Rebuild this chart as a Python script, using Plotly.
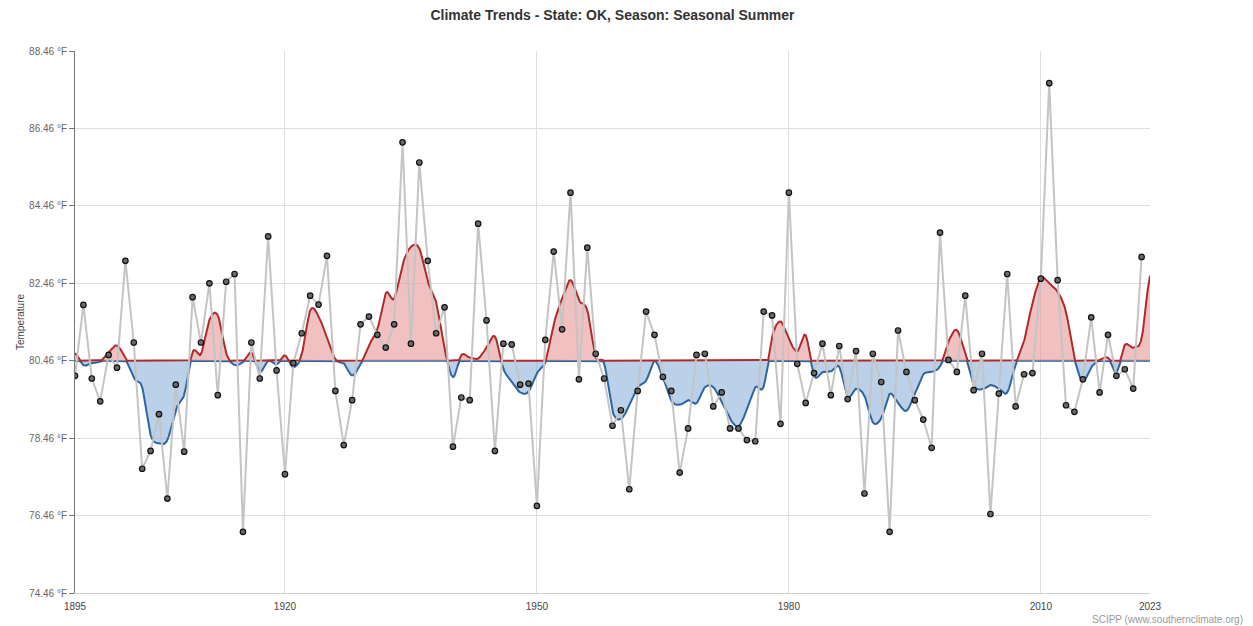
import numpy as np
import plotly.graph_objects as go

# ---- data ----
years = list(range(1895, 2023))
temps = [
    80.07, 81.90, 80.00, 79.41, 80.61, 80.28, 83.04, 80.93, 77.67, 78.13,  # 1895-1904
    79.08, 76.90, 79.84, 78.11, 82.10, 80.93, 82.46, 79.57, 82.50, 82.70,  # 1905-1914
    76.04, 80.93, 80.00, 83.67, 80.21, 77.53, 80.40, 81.17, 82.14, 81.91,  # 1915-1924
    83.17, 79.68, 78.28, 79.44, 81.40, 81.60, 81.13, 80.80, 81.40, 86.10,  # 1925-1934
    80.90, 85.58, 83.04, 81.17, 81.84, 78.24, 79.51, 79.44, 84.00, 81.50,  # 1935-1944
    78.13, 80.90, 80.88, 79.84, 79.87, 76.71, 81.00, 83.28, 81.27, 84.80,  # 1945-1954
    79.98, 83.38, 80.64, 80.00, 78.78, 79.18, 77.14, 79.68, 81.73, 81.13,  # 1955-1964
    80.04, 79.68, 77.57, 78.71, 80.61, 80.64, 79.28, 79.64, 78.71, 78.71,  # 1965-1974
    78.41, 78.38, 81.73, 81.63, 78.83, 84.80, 80.38, 79.37, 80.14, 80.90,  # 1975-1984
    79.57, 80.84, 79.47, 80.71, 77.03, 80.64, 79.91, 76.04, 81.24, 80.17,  # 1985-1994
    79.44, 78.94, 78.21, 83.77, 80.48, 80.17, 82.14, 79.70, 80.64, 76.50,  # 1995-2004
    79.61, 82.70, 79.28, 80.11, 80.14, 82.58, 87.63, 82.54, 79.31, 79.14,  # 2005-2014
    79.98, 81.58, 79.64, 81.13, 80.07, 80.24, 79.74, 83.14,                # 2015-2022
]
mean_temp = 80.46
trend_end_year = 2023
trend_end_value = 82.66
y_ticks = [74.46, 76.46, 78.46, 80.46, 82.46, 84.46, 86.46, 88.46]
x_ticks = [1895, 1920, 1950, 1980, 2010, 2023]

# ---- 5-year centred running mean ----
t = np.array(temps)
ma = [t[max(0, i - 2): i + 3].mean() for i in range(len(t))]
ky = np.array(years + [trend_end_year], dtype=float)
kv = np.array(ma + [trend_end_value])

# Catmull-Rom interpolation of the running mean
n = len(kv)
xs, vs = [], []
steps = 24
for i in range(n - 1):
    p0 = kv[i - 1] if i > 0 else kv[i]
    p1 = kv[i]
    p2 = kv[i + 1]
    p3 = kv[i + 2] if i + 2 < n else kv[i + 1]
    s = np.linspace(0, 1, steps, endpoint=(i == n - 2))
    v = 0.5 * (2 * p1 + (-p0 + p2) * s + (2 * p0 - 5 * p1 + 4 * p2 - p3) * s**2
               + (-p0 + 3 * p1 - 3 * p2 + p3) * s**3)
    xs.append(ky[i] + s * (ky[i + 1] - ky[i]))
    vs.append(v)
xs = np.concatenate(xs)
vs = np.concatenate(vs)
upper = np.maximum(vs, mean_temp)
lower = np.minimum(vs, mean_temp)
base = np.full_like(xs, mean_temp)

RED_LINE = "#b02a2a"
RED_FILL = "rgba(232,150,150,0.6)"
BLUE_LINE = "#2d65a0"
BLUE_FILL = "rgba(140,178,218,0.6)"

fig = go.Figure()
fig.add_trace(go.Scatter(x=xs, y=base, mode="lines", line=dict(width=0), hoverinfo="skip", showlegend=False))
fig.add_trace(go.Scatter(x=xs, y=lower, mode="lines", fill="tonexty", fillcolor=BLUE_FILL,
                         line=dict(color=BLUE_LINE, width=2), hoverinfo="skip", showlegend=False))
fig.add_trace(go.Scatter(x=xs, y=base, mode="lines", line=dict(width=0), hoverinfo="skip", showlegend=False))
fig.add_trace(go.Scatter(x=xs, y=upper, mode="lines", fill="tonexty", fillcolor=RED_FILL,
                         line=dict(color=RED_LINE, width=2), hoverinfo="skip", showlegend=False))
fig.add_trace(go.Scatter(x=years, y=temps, mode="lines+markers",
                         line=dict(color="#c4c4c4", width=2),
                         marker=dict(size=5.5, color="#6a6a6a", line=dict(color="#111", width=1.2)),
                         showlegend=False))

# page body has an 8px default margin, so the figure is sized/offset to compensate
fig.update_layout(
    width=1245, height=618,
    margin=dict(l=67, r=103, t=43, b=33),
    paper_bgcolor="white", plot_bgcolor="white",
    font=dict(family="Liberation Sans, Arial, sans-serif", color="#444", size=10),
    title=dict(text="<b>Climate Trends - State: OK, Season: Seasonal Summer</b>",
               x=0.5, xref="paper", y=1 - 7 / 618, yanchor="middle",
               font=dict(size=14, color="#333")),
    xaxis=dict(range=[1895, 2023], tickvals=x_ticks, ticktext=[str(v) for v in x_ticks],
               showgrid=True, gridcolor="#dedede", gridwidth=1, zeroline=False,
               showline=True, linecolor="#cfcfcf", linewidth=1,
               ticks="outside", ticklen=4, tickcolor="rgba(0,0,0,0)",
               tickfont=dict(size=10, color="#444"), fixedrange=True),
    yaxis=dict(range=[74.46, 88.46], tickvals=y_ticks,
               ticktext=[f"{v:.2f} °F" for v in y_ticks],
               showgrid=True, gridcolor="#dedede", gridwidth=1, zeroline=False,
               showline=True, linecolor="#777", linewidth=1, ticks="outside", ticklen=5,
               tickcolor="#777", tickfont=dict(size=10, color="#666"),
               title=dict(text="Temperature", font=dict(size=10, color="#444"), standoff=2),
               fixedrange=True),
    annotations=[dict(text="SCIPP (www.southernclimate.org)", xref="paper", yref="paper",
                      x=(1237 - 67) / 1075, y=(593 - 619) / 542, xanchor="right", yanchor="middle",
                      showarrow=False, font=dict(size=10, color="#999"))],
)

fig.write_html("out.html")
